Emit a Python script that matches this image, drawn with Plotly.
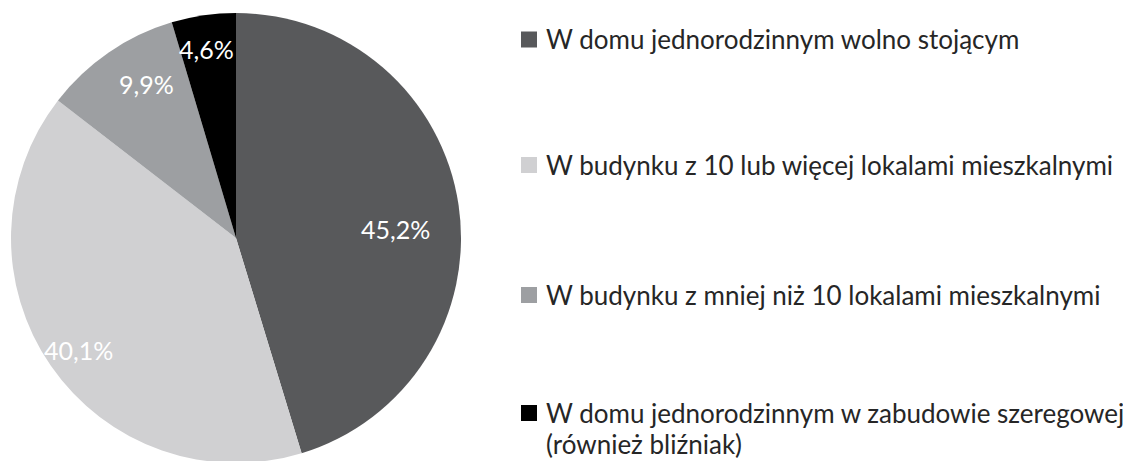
import math
import plotly.graph_objects as go

labels = [
    "W domu jednorodzinnym wolno stojącym",
    "W budynku z 10 lub więcej lokalami mieszkalnymi",
    "W budynku z mniej niż 10 lokalami mieszkalnymi",
    "W domu jednorodzinnym w zabudowie szeregowej<br>(również bliźniak)",
]
values = [45.2, 40.1, 9.9, 4.6]
value_text = ["45,2%", "40,1%", "9,9%", "4,6%"]
colors = ["#58595B", "#D0D0D2", "#9D9FA2", "#000000"]

# label placement style (radial fraction, angular nudge in degrees)
label_rfrac = [0.71, 0.86, 0.79, 0.85]
label_nudge = [5.4, -0.8, 4.2, -0.7]

FONT = "Lato"
W, H = 1131, 461
OFF = 8            # page body margin
MT, MB = 5, 6
PH = H - MT - MB   # plot-area height
LEG_SIZE = 26
LINE = 31


def px(xs):
    return (xs - OFF) / W


def py(ys):
    return 1 - (ys - OFF - MT) / PH


# pie geometry (screen px)
CX, CY, R = 236, 238, 225

fig = go.Figure()
fig.add_trace(go.Pie(
    labels=labels,
    values=values,
    textinfo="none",
    marker=dict(colors=colors, line=dict(width=0)),
    sort=False,
    direction="clockwise",
    rotation=0,
    showlegend=False,
    domain=dict(x=[(CX - OFF - R) / W, (CX - OFF + R) / W], y=[0, 1]),
))

# percentage labels placed at slice bisectors
total = sum(values)
cum = 0.0
for v, t, rf, nd in zip(values, value_text, label_rfrac, label_nudge):
    mid = (cum + v / 2) / total * 360 + nd
    cum += v
    a = math.radians(mid)
    xs = CX + rf * R * math.sin(a)
    ys = CY - rf * R * math.cos(a)
    fig.add_annotation(xref="paper", yref="paper", x=px(xs), y=py(ys),
                       xanchor="center", yanchor="middle", text=t, showarrow=False,
                       font=dict(family=FONT, size=25, color="white"))

# custom legend
legend_y = [39.5, 165, 295, 413]
for lab, col, yc in zip(labels, colors, legend_y):
    fig.add_shape(type="rect", xref="paper", yref="paper",
                  x0=px(521), x1=px(537),
                  y0=py(yc + 8), y1=py(yc - 8),
                  fillcolor=col, line=dict(width=0))
    for i, line in enumerate(lab.split("<br>")):
        fig.add_annotation(xref="paper", yref="paper", x=px(544), y=py(yc + i * LINE),
                           xanchor="left", yanchor="middle", align="left",
                           text=line, showarrow=False,
                           font=dict(family=FONT, size=LEG_SIZE, color="#262626"))

fig.update_layout(
    width=W, height=H,
    margin=dict(l=0, r=0, t=MT, b=MB),
    paper_bgcolor="white", plot_bgcolor="white",
)
fig.write_html("out.html")
